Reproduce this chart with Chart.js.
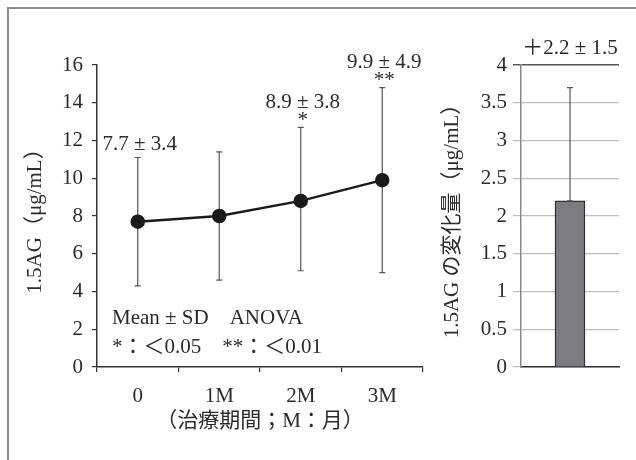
<!DOCTYPE html>
<html>
<head>
<meta charset="utf-8">
<script src="https://cdn.jsdelivr.net/npm/chart.js@4.4.1/dist/chart.umd.min.js"></script>
<style>
  body { margin: 0; background: #fff; }
  #wrap { position: relative; width: 636px; height: 460px; overflow: hidden; }
  #frame { position: absolute; left: 7px; top: 7px; width: 700px; height: 500px;
           border-top: 2px solid #8c8c8c; border-left: 2px solid #8c8c8c; }
  canvas { position: absolute; top: 0; }
</style>
</head>
<body>
<div id="wrap">
  <div id="frame"></div>
  <canvas id="left" width="440" height="460" style="left:0"></canvas>
  <canvas id="right" width="206" height="460" style="left:430px"></canvas>
</div>
<script>
// 治療期間ごとの 1.5AG
const periods = ['0', '1M', '2M', '3M'];
const meanValues = [7.7, 8.0, 8.8, 9.9];
const errHigh = [11.1, 11.4, 12.7, 14.8];
const errLow = [4.3, 4.6, 5.1, 5.0];
const statLabels = ['7.7 ± 3.4', '', '8.9 ± 3.8', '9.9 ± 4.9'];
const sigMarks = ['', '', '*', '**'];
const leftTicks = [0, 2, 4, 6, 8, 10, 12, 14, 16];

// 変化量
const changeCats = [''];
const changeMean = [2.2];
const changeHigh = [3.7];
const changeLabel = '＋2.2 ± 1.5';
const rightTicks = [0, 0.5, 1, 1.5, 2, 2.5, 3, 3.5, 4];

const serif = "'Liberation Serif', 'DejaVu Serif', 'Noto Sans CJK JP', serif";
const txt = '#2b2b2b';
const fsize = 21;
Chart.defaults.font.family = serif;
Chart.defaults.color = txt;

function errBar(ctx, x, y1, y2, cap) {
  ctx.beginPath();
  ctx.moveTo(x, y1); ctx.lineTo(x, y2);
  ctx.moveTo(x - cap, y1); ctx.lineTo(x + cap, y1);
  if (y2 !== null) { ctx.moveTo(x - cap, y2); ctx.lineTo(x + cap, y2); }
  ctx.stroke();
}

let leftDeco = {
  id: 'leftDeco',
  beforeDatasetsDraw(chart) {
    let ctx = chart.ctx, xs = chart.scales.x, ys = chart.scales.y;
    ctx.save();
    ctx.strokeStyle = '#555';
    ctx.lineWidth = 1.2;
    for (let i = 0; i < periods.length; i++) {
      let x = xs.getPixelForValue(i);
      errBar(ctx, x, ys.getPixelForValue(errHigh[i]), ys.getPixelForValue(errLow[i]), 3);
    }
    ctx.restore();
  },
  afterDraw(chart) {
    let ctx = chart.ctx, xs = chart.scales.x, ys = chart.scales.y, a = chart.chartArea;
    ctx.save();
    ctx.fillStyle = txt;
    ctx.textAlign = 'center';
    ctx.textBaseline = 'middle';
    ctx.font = fsize + 'px ' + serif;
    for (let i = 0; i < periods.length; i++) {
      if (!statLabels[i]) continue;
      let x = xs.getPixelForValue(i) + 2;
      let top = ys.getPixelForValue(errHigh[i]);
      if (sigMarks[i]) {
        ctx.fillText(statLabels[i], x, top - 25);
        ctx.fillText(sigMarks[i], x, top - 7);
      } else {
        ctx.fillText(statLabels[i], x, top - 13);
      }
    }
    // 凡例の注記
    ctx.textAlign = 'left';
    ctx.fillText('Mean ± SD　ANOVA', 112, 318);
    ctx.fillText('*：＜0.05　**：＜0.01', 112, 347);
    // 軸タイトル
    ctx.textAlign = 'center';
    ctx.fillText('（治療期間；M：月）', (a.left + a.right) / 2, 421);
    ctx.translate(35, (a.top + a.bottom) / 2);
    ctx.rotate(-Math.PI / 2);
    ctx.fillText('1.5AG（μg/mL）', 0, 0);
    ctx.restore();
  }
};

new Chart(document.getElementById('left'), {
  type: 'line',
  data: {
    labels: periods,
    datasets: [{
      data: meanValues,
      borderColor: '#1a1a1a',
      borderWidth: 2.5,
      backgroundColor: '#1a1a1a',
      pointRadius: 6,
      pointBackgroundColor: '#1a1a1a',
      tension: 0
    }]
  },
  options: {
    responsive: false,
    animation: false,
    layout: { padding: { left: 0, right: 17, top: 65, bottom: 0 } },
    plugins: { legend: { display: false }, tooltip: { enabled: false } },
    scales: {
      x: {
        offset: true,
        grid: { offset: true, drawOnChartArea: false, tickLength: 5, color: '#333', lineWidth: 1.2 },
        border: { color: '#333', width: 1.5 },
        ticks: { font: { size: fsize }, color: txt, padding: 12 },
        afterFit(s) { s.height = 93; }
      },
      y: {
        min: 0, max: 16,
        afterBuildTicks(s) { s.ticks = leftTicks.map(v => ({ value: v })); },
        grid: { drawOnChartArea: false, tickLength: 5, color: '#333', lineWidth: 1.2 },
        border: { color: '#333', width: 1.5 },
        ticks: { font: { size: fsize }, color: txt, padding: 9 },
        afterFit(s) { s.width = 97; }
      }
    }
  },
  plugins: [leftDeco]
});

let rightDeco = {
  id: 'rightDeco',
  afterDatasetsDraw(chart) {
    let ctx = chart.ctx, xs = chart.scales.x, ys = chart.scales.y, a = chart.chartArea;
    ctx.save();
    ctx.strokeStyle = '#555';
    ctx.lineWidth = 1.2;
    let x = xs.getPixelForValue(0);
    errBar(ctx, x, ys.getPixelForValue(changeHigh[0]), ys.getPixelForValue(changeMean[0]), 3);
    ctx.fillStyle = txt;
    ctx.textAlign = 'center';
    ctx.textBaseline = 'middle';
    ctx.font = fsize + 'px ' + serif;
    ctx.fillText(changeLabel, x, 48);
    ctx.translate(22, (a.top + a.bottom) / 2);
    ctx.rotate(-Math.PI / 2);
    ctx.fillText('1.5AG の変化量（μg/mL）', 0, 0);
    ctx.restore();
  }
};

new Chart(document.getElementById('right'), {
  type: 'bar',
  data: {
    labels: changeCats,
    datasets: [{
      data: changeMean,
      backgroundColor: '#7b7b80',
      borderColor: '#333',
      borderWidth: 1.5,
      barThickness: 30
    }]
  },
  options: {
    responsive: false,
    animation: false,
    layout: { padding: { left: 0, right: 17, top: 65, bottom: 0 } },
    plugins: { legend: { display: false }, tooltip: { enabled: false } },
    scales: {
      x: {
        grid: { display: false },
        border: { color: '#333', width: 1.5 },
        ticks: { display: false },
        afterFit(s) { s.height = 93; }
      },
      y: {
        min: 0, max: 4,
        afterBuildTicks(s) { s.ticks = rightTicks.map(v => ({ value: v })); },
        grid: {
          tickLength: 8,
          color: c => (c.tick && c.tick.value === 4) ? '#555' : '#bdbdbd',
          lineWidth: c => (c.tick && c.tick.value === 4) ? 1.5 : 1.2
        },
        border: { color: '#888', width: 1.5 },
        ticks: { font: { size: fsize }, color: txt, padding: 6, callback: v => String(v) },
        afterFit(s) { s.width = 91; }
      }
    }
  },
  plugins: [rightDeco]
});
</script>
</body>
</html>
